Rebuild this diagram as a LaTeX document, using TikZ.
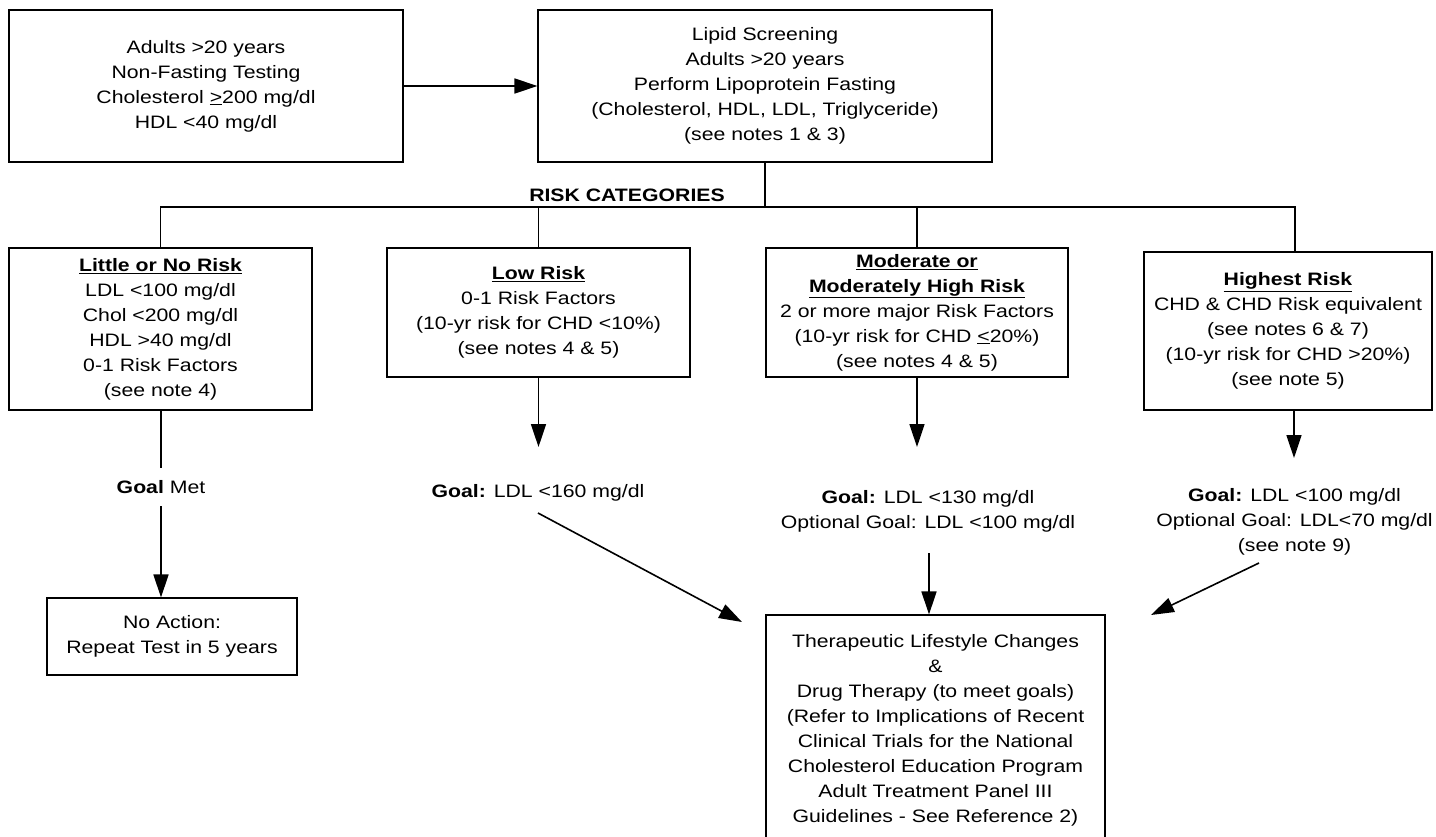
\documentclass[tikz,border=0pt]{standalone}
\usepackage{fontspec}
\setmainfont[FakeStretch=1.18]{Liberation Sans}
\usetikzlibrary{arrows.meta}
\newcommand\dfont{\fontsize{18}{25}\selectfont}
\begin{document}
\begin{tikzpicture}[x=1pt,y=-1pt,
  box/.style={draw, line width=1.1pt, align=center, inner sep=0pt, font=\dfont},
  lbl/.style={align=center, inner sep=0pt, font=\dfont},
  conn/.style={line width=1.6pt},
  arr/.style={conn, -{Triangle[length=23pt,width=15pt]}}]
\useasboundingbox[fill=white] (0,0) rectangle (1436,836);

% top boxes
\node[box, minimum width=394pt, minimum height=152pt] (A) at (206,86)
  {Adults >20 years\\Non-Fasting Testing\\Cholesterol \underline{>}200 mg/dl\\HDL <40 mg/dl};
\node[box, minimum width=454pt, minimum height=152pt] (B) at (765,86)
  {Lipid Screening\\Adults >20 years\\Perform Lipoprotein Fasting\\(Cholesterol, HDL, LDL, Triglyceride)\\(see notes 1 \& 3)};
\draw[arr] (A.east) -- (B.west);

\node[lbl, font=\dfont\bfseries] (RC) at (627,195) {RISK CATEGORIES};

% risk boxes
\node[box, minimum width=303pt, minimum height=162pt] (L1) at (160.5,329)
  {\underline{\textbf{Little or No Risk}}\\LDL <100 mg/dl\\Chol <200 mg/dl\\HDL >40 mg/dl\\0-1 Risk Factors\\(see note 4)};
\node[box, minimum width=303pt, minimum height=129pt] (L2) at (538.5,312.5)
  {\underline{\textbf{Low Risk}}\\0-1 Risk Factors\\(10-yr risk for CHD <10\%)\\(see notes 4 \& 5)};
\node[box, minimum width=302pt, minimum height=129pt] (L3) at (917,312.5)
  {\underline{\textbf{Moderate or}}\\\underline{\textbf{Moderately High Risk}}\\2 or more major Risk Factors\\(10-yr risk for CHD \underline{<}20\%)\\(see notes 4 \& 5)};
\node[box, minimum width=288pt, minimum height=158pt] (L4) at (1288,331)
  {\underline{\textbf{Highest Risk}}\\CHD \& CHD Risk equivalent\\(see notes 6 \& 7)\\(10-yr risk for CHD >20\%)\\(see note 5)};

% tree
\coordinate (bm) at (765,207);
\coordinate (bR) at (1295,207);
\draw[conn] (B.south) -- (bm);
\draw[conn] (L1.north) |- (bR) -- (bR |- L4.north);
\draw[conn] (L2.north) -- (L2.north |- bm);
\draw[conn] (L3.north) -- (L3.north |- bm);

% goals
\node[lbl, minimum height=38pt] (G1) at (161,487) {\textbf{Goal} Met};
\node[lbl] (G2) at (538,493) {\textbf{Goal:} LDL <160 mg/dl};
\node[lbl] (G3) at (928,511.5) {\textbf{Goal:} LDL <130 mg/dl\\Optional Goal: LDL <100 mg/dl};
\node[lbl] (G4) at (1294.5,522) {\textbf{Goal:} LDL <100 mg/dl\\Optional Goal: LDL<70 mg/dl\\(see note 9)};

% bottom boxes
\node[box, minimum width=250pt, minimum height=77pt] (NA) at (172,636.5)
  {No Action:\\Repeat Test in 5 years};
\node[box, minimum width=339pt, minimum height=230pt] (T) at (935.5,730)
  {Therapeutic Lifestyle Changes\\\&\\Drug Therapy (to meet goals)\\(Refer to Implications of Recent\\Clinical Trials for the National\\Cholesterol Education Program\\Adult Treatment Panel III\\Guidelines - See Reference 2)};

% arrows to goals
\coordinate (t2) at (538.5,447);
\coordinate (t3) at (917,447);
\coordinate (t4) at (1294,458);
\draw[conn] (L1.south -| G1.north) -- (G1.north);
\draw[arr] (G1.south) -- (G1.south |- NA.north);
\draw[arr] (L2.south) -- (t2);
\draw[arr] (L3.south) -- (t3);
\draw[arr] (L4.south -| t4) -- (t4);

% arrows to therapy
\coordinate (s2) at (538,513);
\coordinate (e2) at (742,622);
\coordinate (s3) at (929,553);
\coordinate (s4) at (1259,563);
\coordinate (e4) at (1151,615);
\draw[arr] (s2) -- (e2);
\draw[arr] (s3) -- (s3 |- T.north);
\draw[arr] (s4) -- (e4);
\end{tikzpicture}
\end{document}
